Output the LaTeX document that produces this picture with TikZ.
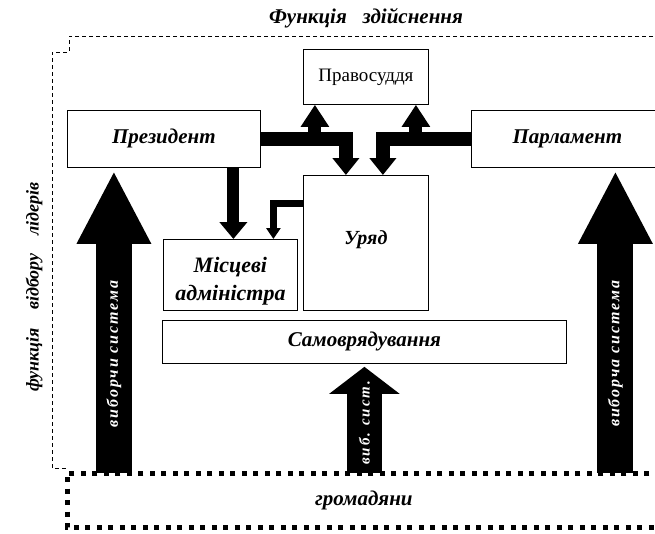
\documentclass[tikz,border=0pt]{standalone}
\usepackage{fontspec}
\setmainfont{Liberation Serif}
\newfontfamily\spacedfont[LetterSpace=12]{Liberation Serif}
\usetikzlibrary{arrows.meta}
\begin{document}
\begin{tikzpicture}[x=1pt,y=-1pt,
  box/.style={draw,line width=0.8pt,inner sep=0pt,anchor=north west,align=center,font=\fontsize{21}{28}\selectfont\bfseries\itshape},
  label/.style={font=\fontsize{21}{24}\selectfont\bfseries\itshape},
  bar/.style={line width=14pt,line join=miter,-{Triangle[length=17pt,width=26pt]}},
  upbar/.style={line width=13pt,-{Triangle[length=22pt,width=27pt]}},
  thinbar/.style={line width=7pt,line join=miter,-{Triangle[length=11pt,width=14pt]}},
  bigarrow/.style={line width=36pt,shorten >=3pt,-{Triangle[length=73pt,width=69pt]}},
  smallarrow/.style={line width=35pt,shorten >=3pt,-{Triangle[length=27pt,width=69pt]}},
  arrowtext/.style={text=white,inner sep=0pt,font=\fontsize{16}{18}\spacedfont\bfseries\itshape}]
 \useasboundingbox (0,0) rectangle (655,533);
 \node[label] (title) at (366,18) {Функція\ \ \ здійснення};
 \node[label,rotate=90,font=\fontsize{18}{20}\selectfont\bfseries\itshape] (side) at (34,287) {функція\ \ \ \ відбору\ \ \ \ лідерів};
 \draw[line width=0.8pt,dash pattern=on 4pt off 3pt] (660,36)--(69,36)--(69,52)--(52,52)--(52,468)--(66,468);
 \node[box,minimum width=193pt,minimum height=57pt] (pres) at (67,110) {Президент};
 \node[box,minimum width=125pt,minimum height=55pt,font=\fontsize{19}{22}\selectfont] (pravo) at (303,49) {Правосуддя};
 \node[box,minimum width=192pt,minimum height=57pt] (parl) at (471,110) {Парламент};
 \node[box,minimum width=125pt,minimum height=135pt,font=\fontsize{20}{24}\selectfont\bfseries\itshape] (urjad) at (303,175) {\raisebox{3pt}[\height][\depth]{Уряд}};
 \node[box,minimum width=134pt,minimum height=71pt,font=\fontsize{22}{28}\selectfont\bfseries\itshape] (misc) at (163,239)
   {\raisebox{-6pt}[\height][\depth]{\begin{tabular}{@{}c@{}}\bfseries\itshape Місцеві\\\bfseries\itshape адміністра\end{tabular}}};
 \node[box,minimum width=404pt,minimum height=43pt] (samo) at (162,320) {Самоврядування};
 \node[box,draw=none,minimum width=593pt,minimum height=54pt] (grom) at (67,473) {громадяни};
 \draw[line width=5pt,dash pattern=on 5pt off 6.5pt] (grom.north east)--(grom.north west)--(grom.south west)--(grom.south east);
 \draw[upbar] ([xshift=-51pt]pravo.south |- pres.east)--([xshift=-51pt]pravo.south);
 \draw[upbar] ([xshift=50pt]pravo.south |- parl.west)--([xshift=50pt]pravo.south);
 \draw[bar] (pres.east) -| ([xshift=-20pt]urjad.north);
 \draw[bar] (parl.west) -| ([xshift=17pt]urjad.north);
 \draw[bar,line width=12pt,-{Triangle[length=17pt,width=27pt]}] ([xshift=3pt]misc.north |- pres.south)--([xshift=3pt]misc.north);
 \draw[thinbar] ([yshift=39pt]urjad.west) -| ([xshift=43pt]misc.north);
 \draw[bigarrow] ([xshift=-50pt]pres.south |- grom.north)--([xshift=-50pt]pres.south)
   node[arrowtext,pos=0.39,sloped] {виборчи система};
 \draw[bigarrow] ([xshift=48pt]parl.south |- grom.north)--([xshift=48pt]parl.south)
   node[arrowtext,pos=0.39,sloped] {виборча система};
 \draw[smallarrow] (samo.south |- grom.north)--(samo.south)
   node[arrowtext,pos=0.46,sloped,font=\fontsize{15}{18}\spacedfont\bfseries\itshape] {виб. сист.};
\end{tikzpicture}
\end{document}
